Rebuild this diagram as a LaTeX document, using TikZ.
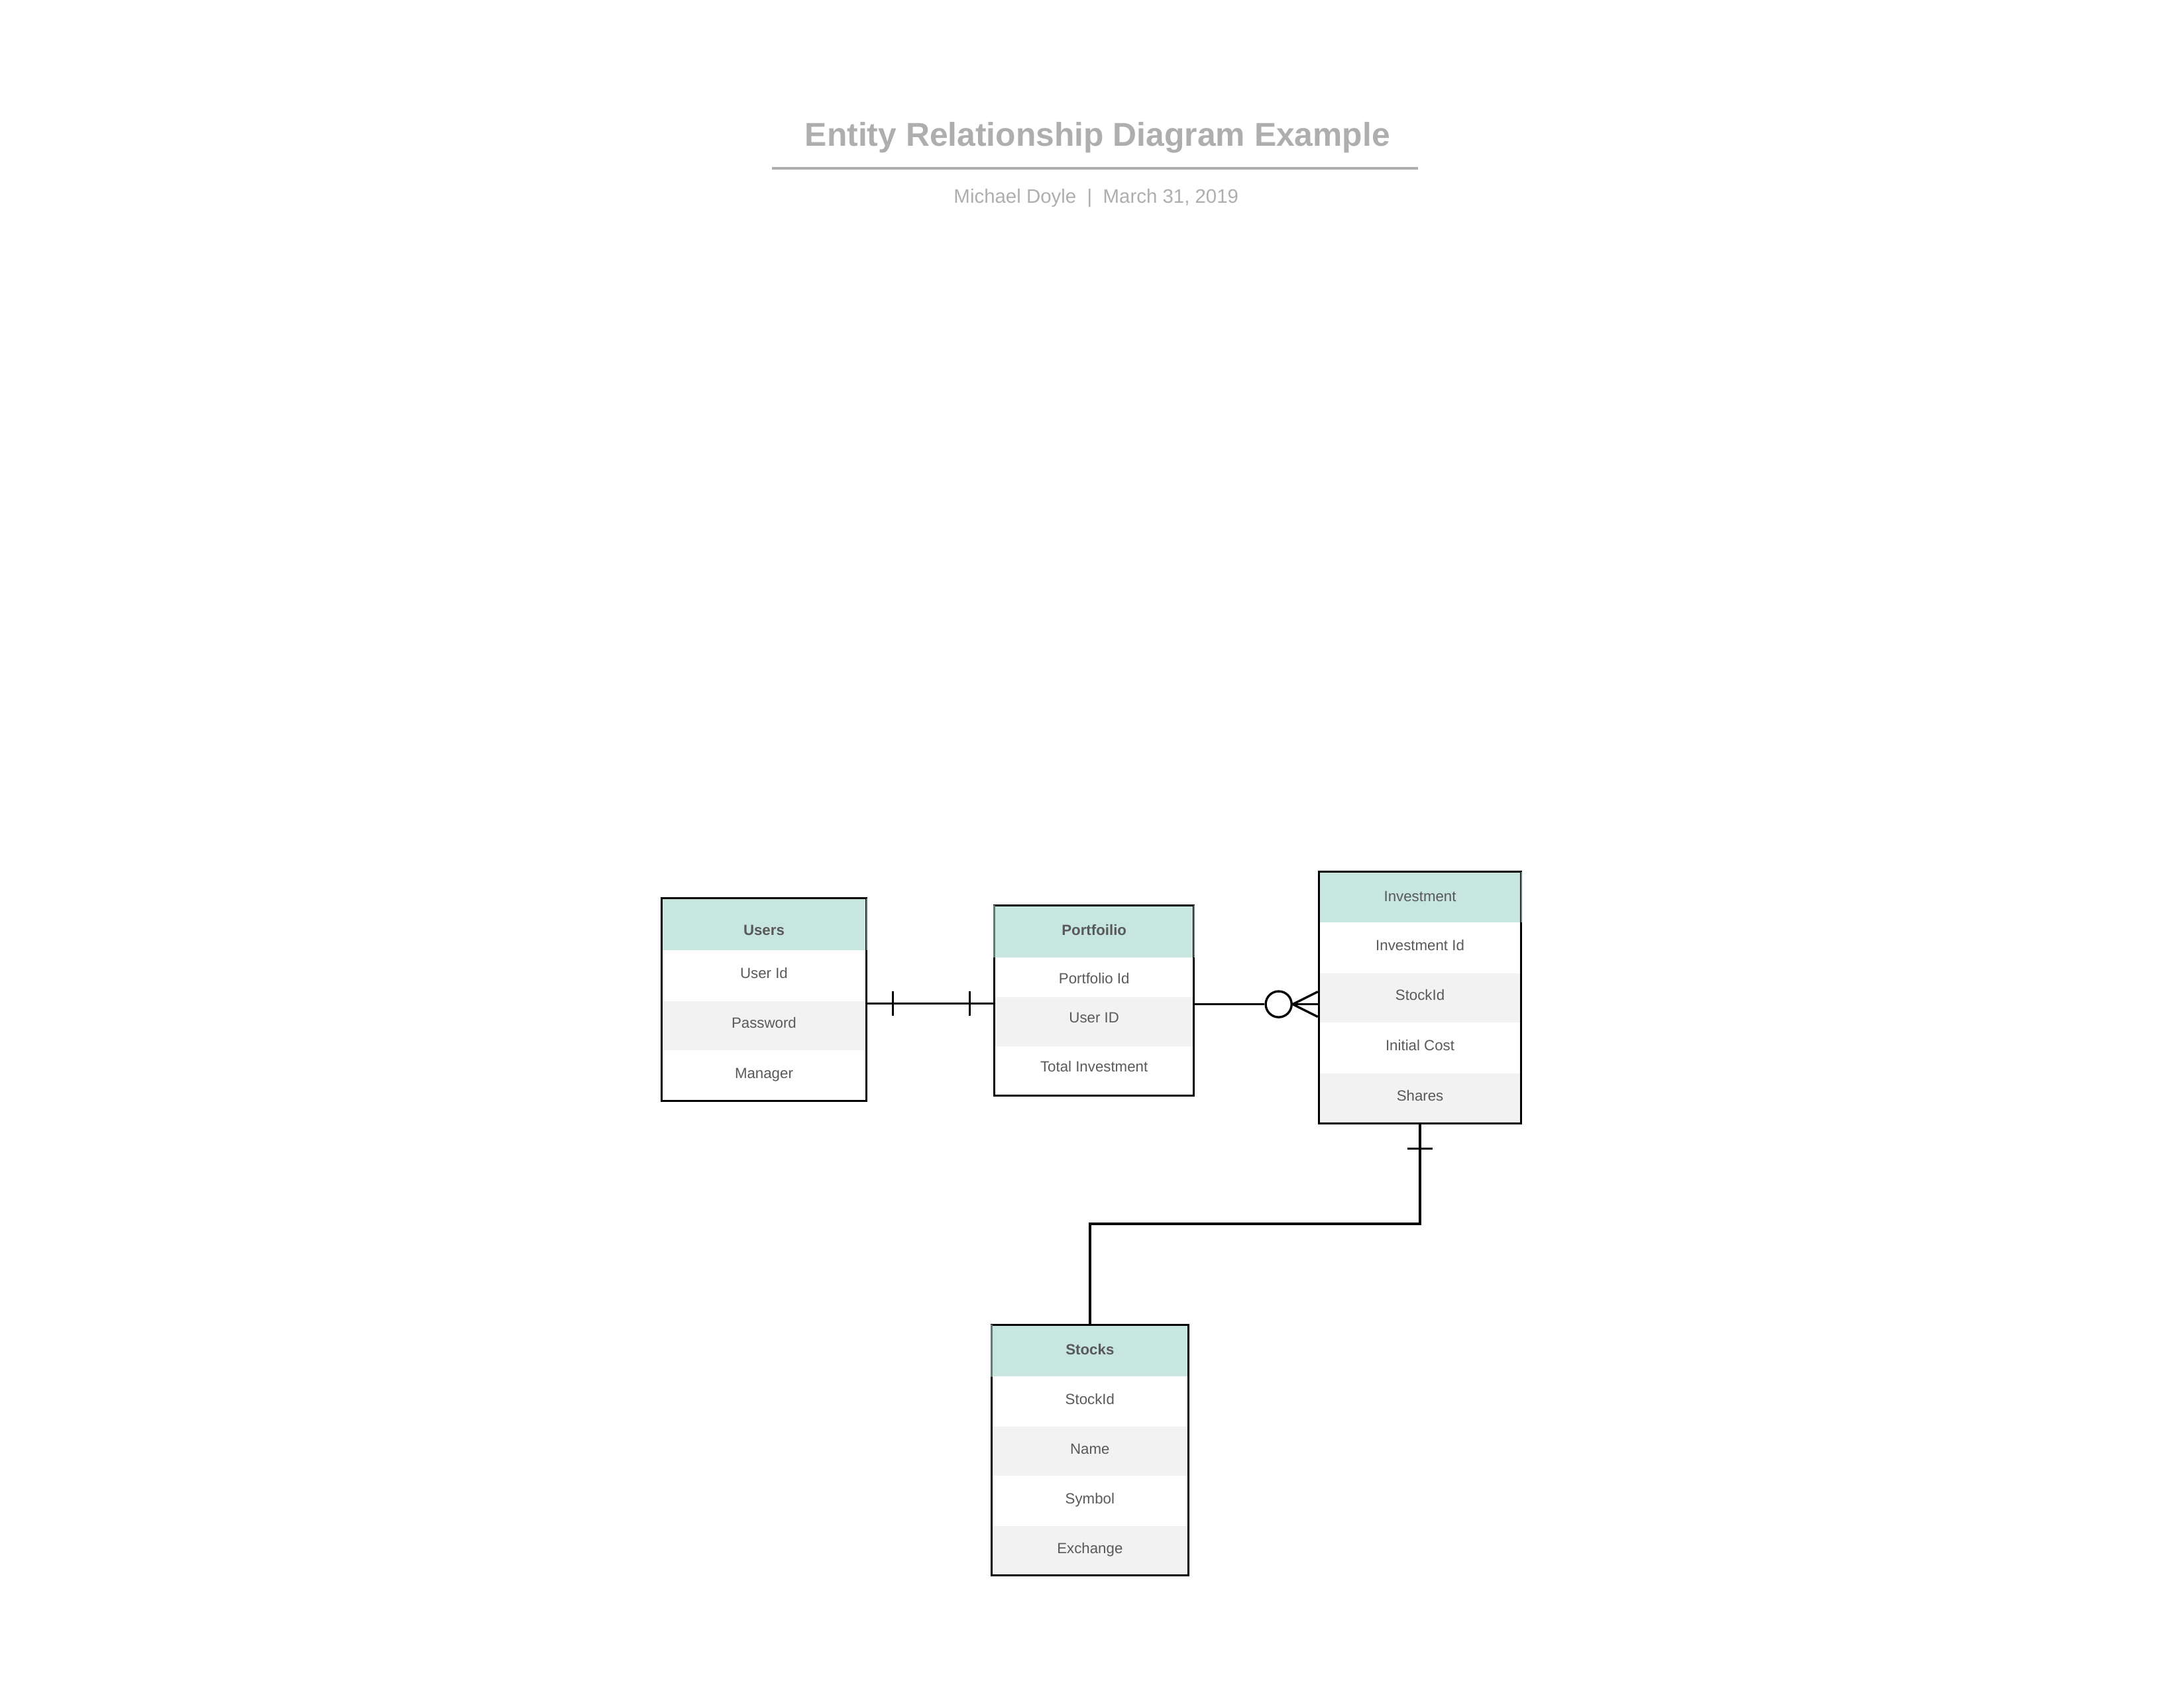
\documentclass[tikz,border=0pt]{standalone}
\usepackage{fontspec}
\setmainfont{Liberation Sans}
\usepackage{xcolor}
\usepackage{tikz}
\usetikzlibrary{positioning, fit}

\definecolor{titlegray}{HTML}{AEAEAE}
\definecolor{headfill}{HTML}{C6E6DF}
\definecolor{headedge}{HTML}{5E7D76}
\definecolor{rowgray}{HTML}{F2F2F2}
\definecolor{fieldtext}{HTML}{595959}

\begin{document}
\begin{tikzpicture}[
      x=1pt, y=-1pt,
      tablefont/.style={font=\fontsize{10.6}{12}\selectfont, text=fieldtext,
        text height=7.6pt, text depth=4pt},
      head/.style={tablefont, fill=headfill, minimum height=37pt, inner sep=0pt,
        anchor=north, text height=7.8pt, text depth=2.2pt},
      field/.style={tablefont, minimum height=35.6pt, inner sep=0pt},
      altfield/.style={field, fill=rowgray},
      tbl/.style={draw, line width=1.4pt, inner sep=0pt},
      hedge/.style={draw=headedge, line width=1.3pt},
      rel/.style={line width=1.6pt}
    ]
    \useasboundingbox (0,0) rectangle (1568,1211);

    \node[anchor=base, text=titlegray, font=\fontsize{23.7}{28}\selectfont\bfseries]
      (title) at (788,104.7) {Entity Relationship Diagram Example};
    \coordinate (rule-l) at (554,121);
    \coordinate (rule-r) at (1018,121);
    \draw[titlegray, line width=2pt] (rule-l) -- (rule-r);
    \node[anchor=base, text=titlegray, font=\fontsize{14}{16}\selectfont]
      (byline) at (787,146) {Michael Doyle \ | \ March 31, 2019};

    % Users
    \begin{scope}[nodes={minimum width=147pt}]
      \node[head, text height=15.6pt, text depth=0pt] (users) at (548.5,645) {\bfseries Users};
      \node[field, below=0pt of users] (users-1) {User Id};
      \node[altfield, below=0pt of users-1] (users-2) {Password};
      \node[field, below=0pt of users-2] (users-3) {Manager};
    \end{scope}
    \node[tbl, fit=(users)(users-3)] (users-box) {};

    % Portfolio
    \begin{scope}[nodes={minimum width=143pt}]
      \node[head] (pf) at (785.5,650) {\bfseries Portfoilio};
      \node[field, minimum height=28pt, text height=9.6pt, text depth=0pt,
        below=0pt of pf] (pf-1) {Portfolio Id};
      \node[altfield, minimum height=35pt, text height=5pt, text depth=3.4pt,
        below=0pt of pf-1] (pf-2) {User ID};
      \node[field, minimum height=35pt, text height=5pt, text depth=3.4pt,
        below=0pt of pf-2] (pf-3) {Total Investment};
    \end{scope}
    \node[tbl, fit=(pf)(pf-3)] (pf-box) {};

    % Investment
    \begin{scope}[nodes={minimum width=145pt}]
      \node[head, minimum height=36pt] (inv) at (1019.5,626) {Investment};
      \node[field, below=0pt of inv] (inv-1) {Investment Id};
      \node[altfield, below=0pt of inv-1] (inv-2) {StockId};
      \node[field, below=0pt of inv-2] (inv-3) {Initial Cost};
      \node[altfield, below=0pt of inv-3] (inv-4) {Shares};
    \end{scope}
    \node[tbl, fit=(inv)(inv-4)] (inv-box) {};

    % Stocks
    \begin{scope}[nodes={minimum width=141pt}]
      \node[head] (stk) at (782.5,951) {\bfseries Stocks};
      \node[field, minimum height=35.3pt, below=0pt of stk] (stk-1) {StockId};
      \node[altfield, minimum height=35.3pt, below=0pt of stk-1] (stk-2) {Name};
      \node[field, minimum height=35.3pt, below=0pt of stk-2] (stk-3) {Symbol};
      \node[altfield, minimum height=35.3pt, below=0pt of stk-3] (stk-4) {Exchange};
    \end{scope}
    \node[tbl, fit=(stk)(stk-4)] (stk-box) {};

    \draw[hedge] (users.north east) -- (users.south east);
    \draw[hedge] (pf.north west) -- (pf.south west);
    \draw[hedge] (pf.north east) -- (pf.south east);
    \draw[hedge] (inv.north east) -- (inv.south east);
    \draw[hedge] (stk.north west) -- (stk.south west);

    % Users -- Portfolio, one and only one
    \coordinate (lvl1) at (0,720.5);
    \draw[rel] (users-box.east |- lvl1) -- (pf-box.west |- lvl1);
    \draw[rel] ([xshift=18pt]users-box.east |- lvl1) ++(0,-9) -- ++(0,18);
    \draw[rel] ([xshift=-17pt]pf-box.west |- lvl1) ++(0,-9) -- ++(0,18);

    % Portfolio -- Investment, zero or many
    \coordinate (lvl2) at (0,721);
    \node[draw, circle, line width=1.6pt, fill=white, minimum size=18.6pt,
      inner sep=0pt] (zero) at (918,721) {};
    \draw[rel] (pf-box.east |- lvl2) -- (zero.west);
    \draw[rel] (zero.east) -- (inv-box.west |- lvl2);
    \draw[rel] (zero.east) -- ([yshift=9pt]inv-box.west |- lvl2);
    \draw[rel] (zero.east) -- ([yshift=-9pt]inv-box.west |- lvl2);

    % Investment -- Stocks
    \draw[rel] (inv-box.south) -- ++(0,71.5) -| (stk-box.north);
    \draw[rel] ([yshift=-17.5pt]inv-box.south) ++(-9,0) -- ++(18,0);
  \end{tikzpicture}
\end{document}
